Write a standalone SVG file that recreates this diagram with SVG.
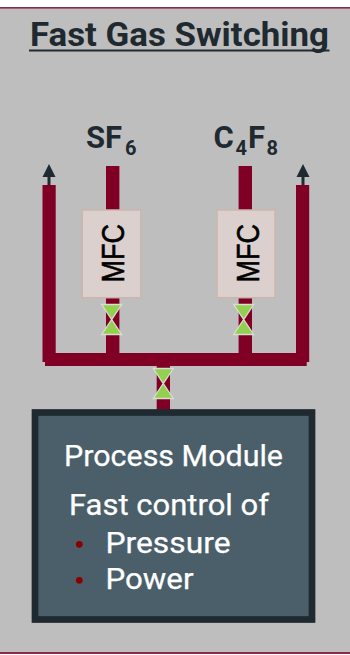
<svg xmlns="http://www.w3.org/2000/svg" width="350" height="655" viewBox="0 0 350 655">
<style>
.pipe{fill:#7f0024}
.din{font-family:Roboto,"Liberation Sans",sans-serif}
.h{fill:#1f2a30;font-weight:700}
.w{fill:#fff;font-size:29px;font-weight:400;stroke:#fff;stroke-width:.25}
.mfcbox{fill:#dbd0cd;stroke:#ccb6ac;stroke-width:1.5}
.mfct{font-family:"Liberation Sans",Arial,sans-serif;font-size:27px;fill:#000;stroke:#000;stroke-width:.5}
.valve{fill:#92d050;stroke:#dcdcd4;stroke-width:1.3}
</style>
<defs>
<g id="v"><path class="valve" d="M-10 0H10L0 15ZM0 15L10 30H-10Z"/></g>
<g id="up"><rect x="-1.5" y="10" width="3" height="12" fill="#1f2a30"/><path d="M0 0L6.5 13H-6.5Z" fill="#1f2a30"/></g>
</defs>
<rect width="350" height="655" fill="#fff"/>
<rect x="0" y="7.5" width="350" height="645" fill="#bebebe"/>
<rect x="0" y="7" width="350" height="1.6" fill="#8e2a47"/>
<rect x="0" y="652" width="350" height="2" fill="#8e2a47"/>
<g id="title"><text class="din h" x="30" y="46" font-size="33" textLength="299" lengthAdjust="spacingAndGlyphs">Fast Gas Switching</text><rect x="29" y="49.5" width="300.5" height="2" fill="#1f2a30"/></g>
<g id="connectors">
<use href="#up" x="49" y="164"/>
<use href="#up" x="303" y="164"/>
<rect class="pipe" x="42.5" y="185" width="13.2" height="177"/>
<rect class="pipe" x="296" y="185" width="13.2" height="177"/>
<rect class="pipe" x="106" y="166" width="13.4" height="190"/>
<rect class="pipe" x="238.6" y="166" width="13.4" height="190"/>
<rect class="pipe" x="45" y="353" width="261.7" height="13"/>
<rect class="pipe" x="156.7" y="366" width="13.3" height="44"/>
</g>
<g id="sf6"><text class="din h" x="86" y="148" font-size="31">SF</text><text class="din h" x="125" y="155" font-size="20">6</text></g>
<g id="c4f8"><text class="din h" x="213.5" y="148" font-size="31">C</text><text class="din h" x="235.5" y="155" font-size="20">4</text><text class="din h" x="248" y="148" font-size="31">F</text><text class="din h" x="266.5" y="155" font-size="20">8</text></g>
<g id="mfc1"><rect class="mfcbox" x="82.3" y="210" width="58.5" height="87.7"/><text class="mfct" transform="translate(123.5 282.5) rotate(-90) scale(1 1.16)">MFC</text></g>
<g id="mfc2"><rect class="mfcbox" x="217" y="210" width="58" height="87.7"/><text class="mfct" transform="translate(258.5 282.5) rotate(-90) scale(1 1.16)">MFC</text></g>
<g id="valve1"><use href="#v" x="111.7" y="304.5"/></g>
<g id="valve2"><use href="#v" x="243.7" y="304.5"/></g>
<g id="valve3"><use href="#v" x="163.3" y="368.5"/></g>
<g id="module">
<rect x="35" y="412.5" width="277" height="207" fill="#4a5f6a" stroke="#1f2a30" stroke-width="6.7"/>
<text class="din w" x="64" y="465.7" textLength="219" lengthAdjust="spacingAndGlyphs">Process Module</text>
<text class="din w" x="69" y="515" textLength="200" lengthAdjust="spacingAndGlyphs">Fast control of</text>
<circle cx="79.3" cy="544.3" r="3.4" fill="#8b0000"/>
<text class="din w" x="105.5" y="553" textLength="125" lengthAdjust="spacingAndGlyphs">Pressure</text>
<circle cx="79.3" cy="580.3" r="3.4" fill="#8b0000"/>
<text class="din w" x="105.5" y="589" textLength="88" lengthAdjust="spacingAndGlyphs">Power</text>
</g>
</svg>
